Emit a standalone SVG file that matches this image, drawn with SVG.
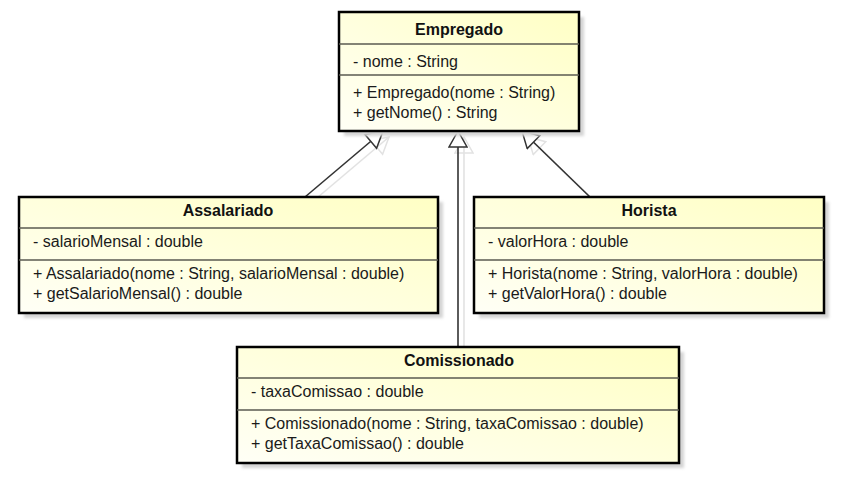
<svg xmlns="http://www.w3.org/2000/svg" width="854" height="489" viewBox="0 0 854 489">
<defs>
<linearGradient id="fill" x1="0" y1="1" x2="1" y2="0">
<stop offset="0" stop-color="#fffff6"/>
<stop offset="1" stop-color="#ffffc4"/>
</linearGradient>
<filter id="blur" x="-5%" y="-5%" width="110%" height="110%">
<feGaussianBlur stdDeviation="1.5"/>
</filter>
<marker id="gen" viewBox="0 0 20 20" refX="18" refY="10" markerWidth="20" markerHeight="20" markerUnits="userSpaceOnUse" orient="auto">
<path d="M18,10 L2,1 L2,19 Z" fill="#ffffff" stroke="#333333" stroke-width="1.5" stroke-linejoin="miter"/>
</marker>
<marker id="gens" viewBox="0 0 20 20" refX="18" refY="10" markerWidth="20" markerHeight="20" markerUnits="userSpaceOnUse" orient="auto">
<path d="M18,10 L2,1 L2,19 Z" fill="none" stroke="#e2e2e2" stroke-width="1.5"/>
</marker>
</defs>
<style>
.shadow{fill:#d4d4d4;filter:url(#blur)}
.box{fill:url(#fill);stroke:#000000;stroke-width:2.5}
.div{stroke:#5a5a50;stroke-width:1.5}
.t{font-family:"Liberation Sans",Arial,sans-serif;font-size:16px;fill:#1a1a1a}
.title{font-family:"Liberation Sans",Arial,sans-serif;font-size:16px;font-weight:bold;fill:#111111;text-anchor:middle}
.conn{stroke:#333333;stroke-width:1.6;fill:none;marker-end:url(#gen)}
.conns{stroke:#e2e2e2;stroke-width:1.6;fill:none;marker-end:url(#gens)}
</style>
<rect width="854" height="489" fill="#ffffff"/>

<g id="connectors">
<line class="conns" x1="311" y1="203" x2="389" y2="137"/>
<line class="conns" x1="464" y1="353" x2="464" y2="137"/>
<line class="conns" x1="596" y1="203" x2="528" y2="137"/>
<line class="conn" x1="305" y1="197" x2="383" y2="131"/>
<line class="conn" x1="458" y1="347" x2="458" y2="131"/>
<line class="conn" x1="590" y1="197" x2="522" y2="131"/>
</g>

<g id="Empregado">
<rect class="shadow" x="344" y="17" width="240" height="119"/>
<rect class="box" x="339" y="12" width="240" height="119"/>
<line class="div" x1="339" y1="44" x2="579" y2="44"/>
<line class="div" x1="339" y1="75" x2="579" y2="75"/>
<text class="title" x="459" y="35">Empregado</text>
<text class="t" x="353" y="67">- nome : String</text>
<text class="t" x="353" y="98">+ Empregado(nome : String)</text>
<text class="t" x="353" y="118">+ getNome() : String</text>
</g>

<g id="Assalariado">
<rect class="shadow" x="24" y="202" width="419" height="116"/>
<rect class="box" x="19" y="197" width="419" height="116"/>
<line class="div" x1="19" y1="228" x2="438" y2="228"/>
<line class="div" x1="19" y1="260" x2="438" y2="260"/>
<text class="title" x="228" y="216">Assalariado</text>
<text class="t" x="33" y="247">- salarioMensal : double</text>
<text class="t" x="33" y="279">+ Assalariado(nome : String, salarioMensal : double)</text>
<text class="t" x="33" y="299">+ getSalarioMensal() : double</text>
</g>

<g id="Horista">
<rect class="shadow" x="479" y="202" width="350" height="116"/>
<rect class="box" x="474" y="197" width="350" height="116"/>
<line class="div" x1="474" y1="228" x2="824" y2="228"/>
<line class="div" x1="474" y1="260" x2="824" y2="260"/>
<text class="title" x="649" y="216">Horista</text>
<text class="t" x="488" y="247">- valorHora : double</text>
<text class="t" x="488" y="279">+ Horista(nome : String, valorHora : double)</text>
<text class="t" x="488" y="299">+ getValorHora() : double</text>
</g>

<g id="Comissionado">
<rect class="shadow" x="242" y="352" width="442" height="116"/>
<rect class="box" x="237" y="347" width="442" height="116"/>
<line class="div" x1="237" y1="378" x2="679" y2="378"/>
<line class="div" x1="237" y1="410" x2="679" y2="410"/>
<text class="title" x="459" y="366">Comissionado</text>
<text class="t" x="251" y="397">- taxaComissao : double</text>
<text class="t" x="251" y="429">+ Comissionado(nome : String, taxaComissao : double)</text>
<text class="t" x="251" y="449">+ getTaxaComissao() : double</text>
</g>
</svg>
